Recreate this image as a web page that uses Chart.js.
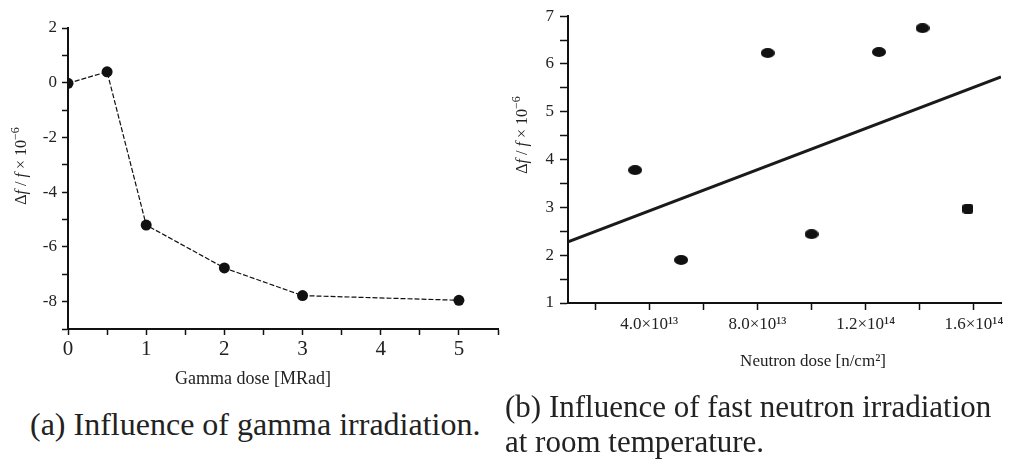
<!DOCTYPE html>
<html>
<head>
<meta charset="utf-8">
<script src="https://cdn.jsdelivr.net/npm/chart.js@4.4.1/dist/chart.umd.min.js"></script>
<style>
  body { margin: 0; background: #fff; width: 1015px; height: 460px; position: relative; overflow: hidden; font-family: "Liberation Serif", serif; }
  #wrap-a { position: absolute; left: 0; top: 0; width: 520px; height: 400px; }
  #wrap-b { position: absolute; left: 500px; top: 0; width: 515px; height: 400px; }
  .caption { position: absolute; font-size: 31px; line-height: 35px; color: #222; white-space: nowrap; }
</style>
</head>
<body>
<div id="wrap-a"><canvas id="gamma-chart"></canvas></div>
<div id="wrap-b"><canvas id="neutron-chart"></canvas></div>
<div class="caption" style="left:30px; top:407px; font-size:32px;">(a) Influence of gamma irradiation.</div>
<div class="caption" style="left:505px; top:389px;">(b) Influence of fast neutron irradiation<br>at room temperature.</div>

<script>
// (a) gamma irradiation
const gammaDose = [0, 0.5, 1, 2, 3, 5];
const gammaShift = [-0.02, 0.4, -5.2, -6.77, -7.78, -7.95];
const gammaXTicks = [0, 0.5, 1, 1.5, 2, 2.5, 3, 3.5, 4, 4.5, 5, 5.5];
const gammaXLabels = ['0', '', '1', '', '2', '', '3', '', '4', '', '5', ''];
const gammaYTicks = [-9, -8, -7, -6, -5, -4, -3, -2, -1, 0, 1, 2];
const gammaYLabels = ['', '-8', '', '-6', '', '-4', '', '-2', '', '0', '', '2'];

// (b) fast neutron irradiation
const neutronDose = [3.48e13, 5.18e13, 8.38e13, 1.0e14, 1.249e14, 1.41e14, 1.578e14];
const neutronShift = [3.78, 1.9, 6.23, 2.44, 6.25, 6.75, 2.97];
const fitDose = [1.0e13, 1.7e14];
const fitShift = [2.28, 5.73];
const neutronXTicks = [2e13, 4e13, 6e13, 8e13, 1.0e14, 1.2e14, 1.4e14, 1.6e14];
const neutronXLabels = ['', '4.0×10¹³', '', '8.0×10¹³', '', '1.2×10¹⁴', '', '1.6×10¹⁴'];
const neutronYTicks = [1, 1.5, 2, 2.5, 3, 3.5, 4, 4.5, 5, 5.5, 6, 6.5, 7];
const neutronYLabels = ['1', '', '2', '', '3', '', '4', '', '5', '', '6', '', '7'];

const ink = '#111';
const textInk = '#222';
const serif = 'Liberation Serif';

// axis titles drawn by hand so the f's can be italic and the exponent raised
const axisTitles = {
    id: 'axisTitles',
    afterDraw(chart, args, opts) {
        const ctx = chart.ctx;
        ctx.save();
        ctx.fillStyle = textInk;
        ctx.textBaseline = 'alphabetic';
        ctx.textAlign = 'left';

        // x title
        ctx.font = `${opts.xSize}px "${serif}"`;
        const xw = ctx.measureText(opts.xText).width;
        ctx.fillText(opts.xText, opts.xAt[0] - xw / 2, opts.xAt[1]);

        // y title, rotated
        const s = opts.ySize;
        const parts = [
            ['Δ', `${s}px "${serif}"`, 0],
            ['f', `italic ${s}px "${serif}"`, 0],
            [' / ', `${s}px "${serif}"`, 0],
            ['f', `italic ${s}px "${serif}"`, 0],
            [' × 10', `${s}px "${serif}"`, 0],
            ['−6', `${Math.round(s * 0.72)}px "${serif}"`, -s * 0.42]
        ];
        let total = 0;
        parts.forEach(p => { ctx.font = p[1]; total += ctx.measureText(p[0]).width; });
        ctx.translate(opts.yAt[0], opts.yAt[1]);
        ctx.rotate(-Math.PI / 2);
        let x = -total / 2;
        parts.forEach(p => {
            ctx.font = p[1];
            ctx.fillText(p[0], x, s * 0.35 + p[2]);
            x += ctx.measureText(p[0]).width;
        });
        ctx.restore();
    }
};

function axisStyle(extra) {
    return Object.assign({
        type: 'linear',
        grid: { drawOnChartArea: false, tickLength: 6, tickColor: ink, tickWidth: 1.5 },
        border: { color: ink, width: 2 }
    }, extra);
}

function tickOptions(labels, size, padding) {
    return {
        autoSkip: false,
        maxRotation: 0,
        padding: padding,
        color: textInk,
        font: { family: serif, size: size },
        callback: (value, index) => labels[index]
    };
}

// filled ellipse / rounded square used as markers in (b)
function makeDot(w, h, square) {
    const c = document.createElement('canvas');
    c.width = w;
    c.height = h;
    const g = c.getContext('2d');
    g.fillStyle = ink;
    g.beginPath();
    if (square) {
        g.roundRect(0, 0, w, h, 3);
    } else {
        g.ellipse(w / 2, h / 2, w / 2, h / 2, 0, 0, Math.PI * 2);
    }
    g.fill();
    return c;
}

function drawGamma() {
    const ctx = document.getElementById('gamma-chart').getContext('2d');
    new Chart(ctx, {
        type: 'scatter',
        data: {
            datasets: [{
                data: gammaDose.map((d, i) => ({ x: d, y: gammaShift[i] })),
                showLine: true,
                borderColor: ink,
                borderWidth: 1.2,
                borderDash: [5, 2],
                pointRadius: 5.5,
                pointBackgroundColor: ink,
                pointBorderWidth: 0
            }]
        },
        options: {
            animation: false,
            responsive: true,
            maintainAspectRatio: false,
            layout: { padding: { left: 0, top: 28, right: 22, bottom: 0 } },
            plugins: {
                legend: { display: false },
                tooltip: { enabled: false },
                axisTitles: { xText: 'Gamma dose [MRad]', xSize: 18, xAt: [253, 384], ySize: 16, yAt: [20, 166] }
            },
            scales: {
                x: axisStyle({
                    min: 0, max: 5.5,
                    afterBuildTicks: s => { s.ticks = gammaXTicks.map(v => ({ value: v })); },
                    afterFit: s => { s.height = 71; },
                    ticks: tickOptions(gammaXLabels, 21, 2)
                }),
                y: axisStyle({
                    min: -9, max: 2,
                    afterBuildTicks: s => { s.ticks = gammaYTicks.map(v => ({ value: v })); },
                    afterFit: s => { s.width = 68; },
                    ticks: tickOptions(gammaYLabels, 17, 5)
                })
            }
        },
        plugins: [axisTitles]
    });
}

function drawNeutron() {
    const ctx = document.getElementById('neutron-chart').getContext('2d');
    const dotStyles = neutronDose.map((d, i) => i === neutronDose.length - 1 ? makeDot(11, 10, true) : makeDot(14, 10, false));
    new Chart(ctx, {
        type: 'scatter',
        data: {
            datasets: [{
                data: neutronDose.map((d, i) => ({ x: d, y: neutronShift[i] })),
                pointStyle: dotStyles,
                pointRadius: 6
            }, {
                data: fitDose.map((d, i) => ({ x: d, y: fitShift[i] })),
                showLine: true,
                borderColor: '#1a1a1a',
                borderWidth: 3,
                pointRadius: 0
            }]
        },
        options: {
            animation: false,
            responsive: true,
            maintainAspectRatio: false,
            layout: { padding: { left: 0, top: 16, right: 14, bottom: 0 } },
            plugins: {
                legend: { display: false },
                tooltip: { enabled: false },
                axisTitles: { xText: 'Neutron dose [n/cm²]', xSize: 17, xAt: [313, 366], ySize: 16, yAt: [21, 135] }
            },
            scales: {
                x: axisStyle({
                    min: 1.0e13, max: 1.7e14,
                    afterBuildTicks: s => { s.ticks = neutronXTicks.map(v => ({ value: v })); },
                    afterFit: s => { s.height = 97; },
                    ticks: tickOptions(neutronXLabels, 17, 4),
                    grid: { drawOnChartArea: false, tickLength: 7, tickColor: ink, tickWidth: 1.5 }
                }),
                y: axisStyle({
                    min: 1, max: 7,
                    afterBuildTicks: s => { s.ticks = neutronYTicks.map(v => ({ value: v })); },
                    afterFit: s => { s.width = 68; },
                    ticks: tickOptions(neutronYLabels, 17, 6),
                    grid: { drawOnChartArea: false, tickLength: 8, tickColor: ink, tickWidth: 1.5 }
                })
            }
        },
        plugins: [axisTitles]
    });
}

document.addEventListener("DOMContentLoaded", () => {
    drawGamma();
    drawNeutron();
});
</script>
</body>
</html>
